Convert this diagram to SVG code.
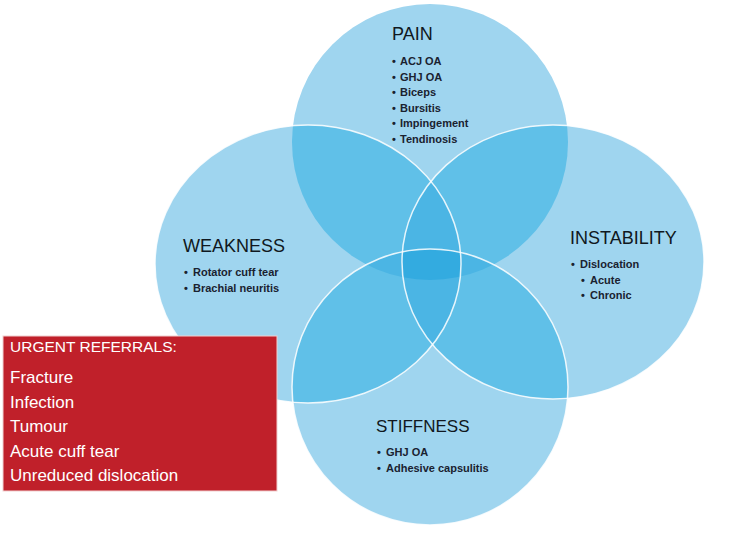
<svg xmlns="http://www.w3.org/2000/svg" xmlns:xlink="http://www.w3.org/1999/xlink" width="748" height="548" viewBox="0 0 748 548">
<style>
.base{fill:#9fd5ef}
.o2{fill:#60c0e8}
.o3{fill:#4bb5e4}
.o4{fill:#33abe0}
.edge{fill:none;stroke:#ffffff;stroke-width:1.5;stroke-opacity:0.85}
.title{font-family:"Liberation Sans",Arial,sans-serif;font-size:18px;fill:#101820}
.item{font-family:"Liberation Sans",Arial,sans-serif;font-size:11px;font-weight:bold;fill:#1a2230}
.ref{font-family:"Liberation Sans",Arial,sans-serif;font-size:17px;fill:#ffffff}
</style>
<defs>
<ellipse id="eP" cx="430" cy="142" rx="138" ry="138"/>
<ellipse id="eW" cx="308" cy="264" rx="153" ry="139"/>
<ellipse id="eI" cx="553" cy="262" rx="151" ry="137"/>
<ellipse id="eS" cx="430" cy="387" rx="138" ry="138"/>
<clipPath id="cP"><use xlink:href="#eP"/></clipPath>
<clipPath id="cW"><use xlink:href="#eW"/></clipPath>
<clipPath id="cI"><use xlink:href="#eI"/></clipPath>
<clipPath id="cS"><use xlink:href="#eS"/></clipPath>
</defs>
<rect width="748" height="548" fill="#ffffff"/>
<g id="pain">
<use xlink:href="#eP" class="base"/>
<text class="title" x="392" y="40">PAIN</text>
<g class="item">
<text x="392" y="65">•</text><text x="400" y="65">ACJ OA</text>
<text x="392" y="80.5">•</text><text x="400" y="80.5">GHJ OA</text>
<text x="392" y="96">•</text><text x="400" y="96">Biceps</text>
<text x="392" y="111.5">•</text><text x="400" y="111.5">Bursitis</text>
<text x="392" y="127">•</text><text x="400" y="127">Impingement</text>
<text x="392" y="142.5">•</text><text x="400" y="142.5">Tendinosis</text>
</g>
</g>
<g id="weakness">
<use xlink:href="#eW" class="base"/>
<text class="title" x="183" y="252">WEAKNESS</text>
<g class="item">
<text x="184" y="276">•</text><text x="193" y="276">Rotator cuff tear</text>
<text x="184" y="292">•</text><text x="193" y="292">Brachial neuritis</text>
</g>
</g>
<g id="instability">
<use xlink:href="#eI" class="base"/>
<text class="title" x="570" y="244">INSTABILITY</text>
<g class="item">
<text x="571" y="268">•</text><text x="580" y="268">Dislocation</text>
<text x="581" y="283.5">•</text><text x="590" y="283.5">Acute</text>
<text x="581" y="299">•</text><text x="590" y="299">Chronic</text>
</g>
</g>
<g id="stiffness">
<use xlink:href="#eS" class="base"/>
<text class="title" x="376" y="432" style="font-size:17px">STIFFNESS</text>
<g class="item">
<text x="377" y="456">•</text><text x="386" y="456">GHJ OA</text>
<text x="377" y="472">•</text><text x="386" y="472">Adhesive capsulitis</text>
</g>
</g>
<g id="overlaps">
<use xlink:href="#eW" class="o2" clip-path="url(#cP)"/>
<use xlink:href="#eI" class="o2" clip-path="url(#cP)"/>
<use xlink:href="#eS" class="o2" clip-path="url(#cP)"/>
<use xlink:href="#eI" class="o2" clip-path="url(#cW)"/>
<use xlink:href="#eS" class="o2" clip-path="url(#cW)"/>
<use xlink:href="#eS" class="o2" clip-path="url(#cI)"/>
<g clip-path="url(#cP)"><use xlink:href="#eI" class="o3" clip-path="url(#cW)"/></g>
<g clip-path="url(#cP)"><use xlink:href="#eS" class="o3" clip-path="url(#cW)"/></g>
<g clip-path="url(#cP)"><use xlink:href="#eS" class="o3" clip-path="url(#cI)"/></g>
<g clip-path="url(#cW)"><use xlink:href="#eS" class="o3" clip-path="url(#cI)"/></g>
<g clip-path="url(#cP)"><g clip-path="url(#cW)"><use xlink:href="#eS" class="o4" clip-path="url(#cI)"/></g></g>
<use xlink:href="#eW" class="edge"/>
<use xlink:href="#eI" class="edge"/>
<use xlink:href="#eS" class="edge"/>
</g>
<g id="urgent">
<rect x="3" y="336" width="274" height="155" fill="#c0202a" stroke="#f2d0d0" stroke-width="1"/>
<text class="ref" x="10" y="352" style="font-size:15.5px">URGENT REFERRALS:</text>
<text class="ref" x="10" y="383">Fracture</text>
<text class="ref" x="10" y="407.5">Infection</text>
<text class="ref" x="10" y="432">Tumour</text>
<text class="ref" x="10" y="457">Acute cuff tear</text>
<text class="ref" x="10" y="481">Unreduced dislocation</text>
</g>
</svg>
